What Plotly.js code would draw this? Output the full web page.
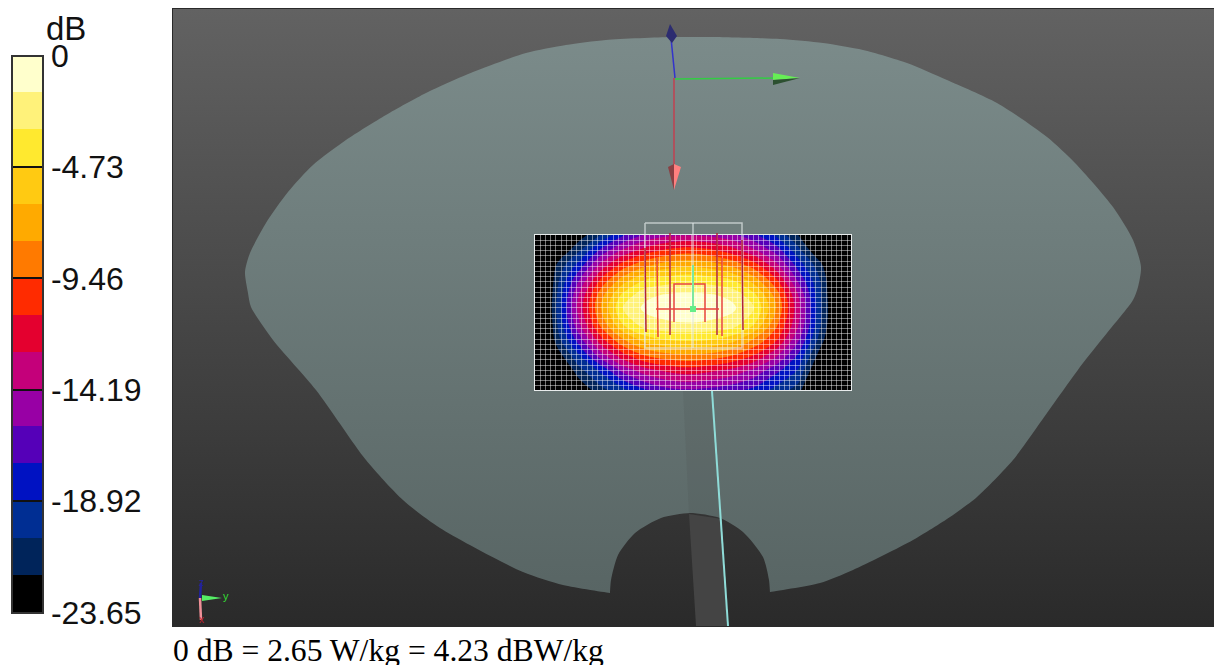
<!DOCTYPE html>
<html>
<head>
<meta charset="utf-8">
<script src="https://cdn.plot.ly/plotly-3.0.1.min.js"></script>
<style>html,body{margin:0;padding:0;background:#fff;overflow:hidden}#chart{width:1214px;height:665px}</style>
</head>
<body>
<div id="chart"></div>
<script>
// dB scale
var bandColors = ['#000000','#00245A','#002E93','#0012C2','#5500B8','#9800A5','#C4007A','#E4002F','#FF2B00','#FF7A00','#FFAA00','#FFCA12','#FFE92F','#FFF27A','#FFFFCC'];
var scaleTicks = [0,-4.73,-9.46,-14.19,-18.92,-23.65];
var scaleLabels = ['0','-4.73','-9.46','-14.19','-18.92','-23.65'];

// SAR map, dB
var mapX = [535,557,579,601,623,645,667,688,710,732,754,776,798,820,851];
var mapY = [235,250,265,280,295,308,325,340,355,370,390];
var mapDb = [
 [-30,-27,-23,-20.4,-17.5,-15.6,-14.6,-14.3,-14.6,-15.4,-17,-19.2,-22,-27,-30],
 [-30,-24,-20.8,-17,-14,-12,-10.8,-10.3,-10.8,-12,-14,-16.5,-20,-24,-30],
 [-29,-21.8,-18.3,-13.7,-10.3,-8.3,-7.1,-6.7,-7.1,-8.3,-10.3,-13.7,-18,-21.5,-29],
 [-28,-21,-15.8,-10.7,-7.1,-4.7,-3.95,-3.55,-3.95,-4.7,-7.1,-10.7,-16,-20.5,-28],
 [-28,-20.5,-14.1,-8.5,-4.3,-2,-1.4,-1.25,-1.4,-2,-4.3,-8.5,-14.1,-20.2,-28],
 [-28,-20.2,-13.6,-7.88,-3.15,-1.2,-0.5,0,-0.5,-1.2,-3.15,-7.88,-13.6,-20,-28],
 [-28,-20.6,-14.5,-9.1,-4.8,-2.4,-2,-1.85,-2,-2.4,-4.8,-9.1,-14,-20.3,-28],
 [-28,-21.3,-16.6,-11.6,-8.1,-5.7,-4.7,-4.5,-4.7,-5.7,-8.1,-10.8,-15.5,-21.2,-28],
 [-29,-23,-19,-14.8,-11.5,-9.3,-8.3,-8,-8.3,-9.3,-11,-13.8,-17.5,-22.8,-29],
 [-30,-25,-21,-18.5,-15.2,-13.2,-12.2,-11.7,-12.2,-13,-14.5,-16.8,-19,-24.5,-30],
 [-30,-27,-23.5,-21,-19.4,-17.5,-16.2,-15.9,-16.2,-16.8,-17.8,-19.5,-21.2,-27,-30]
];

// scene outlines
var panelX = [173,1214,1214,173,173];
var panelY = [9,9,626,626,9];
var phantomX = [680,713,780,823,863,907,947,997,1047,1075,1113,1133,1141,1138,1133,1107,1083,1047,1013,977,950,913,853,820,770,770,769,763,743,720,690,661,635,618,611,610,610,563,523,440,403,366,316,273,251,248,245,250,266,288,313,346,386,426,473,526,566,606,670,680];
var phantomY = [37,37,39,43,50,63,80,103,137,163,207,240,267,287,300,333,363,413,460,497,517,540,570,583,592,592,580,557,532,518,513,518,533,555,580,593,593,585,572,528,500,460,390,340,307,293,272,253,223,192,165,140,115,93,72,53,45,40,37,37];
var stemUpperX = [683,712,720,689,683];
var stemUpperY = [391,391,519,513,391];
var stemLowerX = [689,722,727,696,689];
var stemLowerY = [514,519,626,626,514];
var cableX = [712,728];
var cableY = [391,626];

// probe and axis glyphs
var probeBoxX = [645,742,742,645,645,null,693,693];
var probeBoxY = [223,223,348,348,223,null,223,348];
var probeDarkX = [645,646,null,670,670,null,717,717,null,742,743];
var probeDarkY = [248,332,null,233,335,null,233,335,null,240,330];
var probeRedX = [657,658,null,722,722,null,674,674,705,705,null,656,719];
var probeRedY = [258,337,null,258,336,null,322,284,284,322,null,309,309];
var probeFeedX = [693,693];
var probeFeedY = [265,309];
var axisBlueX = [671,675], axisBlueY = [38,78];
var axisRedX = [674,674], axisRedY = [78,166];
var axisGreenX = [675,775], axisGreenY = [79,78];
var coneBlueX = [670,677,672,666,670], coneBlueY = [24,36,43,36,24];
var coneRedDarkX = [668,674,674,668], coneRedDarkY = [167,164,190,167];
var coneRedX = [674,681,674,674], coneRedY = [164,167,190,164];
var coneGreenX = [773,800,773,773], coneGreenY = [73,78,80,73];
var coneGreenDarkX = [773,800,773,773], coneGreenDarkY = [80,78,85,80];
var triadBlueX = [200,201], triadBlueY = [598,583];
var triadRedX = [200,201], triadRedY = [598,620];
var triadGreenX = [202,222,202,202], triadGreenY = [595,598,601,595];

var colorscale = [];
bandColors.forEach(function(c,i){
  colorscale.push([i/bandColors.length,c]);
  colorscale.push([(i+1)/bandColors.length,c]);
});

function poly(x,y,color,axes){
  return {type:'scatter',mode:'lines',x:x,y:y,fill:'toself',fillcolor:color,line:{width:0},xaxis:axes[0],yaxis:axes[1],hoverinfo:'skip',showlegend:false};
}
function gradPoly(x,y,hi,lo,shape){
  return {type:'scatter',mode:'lines',x:x,y:y,fill:'toself',
    fillgradient:{type:'vertical',colorscale:[[0,lo],[1,hi]]},
    line:{width:0,shape:shape,smoothing:0.7},hoverinfo:'skip',showlegend:false};
}
function line(x,y,color,w,axes){
  return {type:'scatter',mode:'lines',x:x,y:y,line:{color:color,width:w},xaxis:axes[0],yaxis:axes[1],hoverinfo:'skip',showlegend:false};
}
var overAxes = ['x4','y4'], mainAxes = ['x','y'];

var traces = [
  gradPoly(panelX,panelY,'#626262','#2A2A2A','linear'),
  gradPoly(phantomX,phantomY,'#7B8B8A','#586564','spline'),
  poly(stemUpperX,stemUpperY,'rgba(60,60,60,0.10)',mainAxes),
  poly(stemLowerX,stemLowerY,'#444444',mainAxes),
  line(cableX,cableY,'#8FDCD8',2,mainAxes),
  {type:'contour',x:mapX,y:mapY,z:mapDb,zmin:-23.65,zmax:0,zauto:false,xaxis:'x2',yaxis:'y2',
   autocontour:false,colorscale:colorscale,
   contours:{start:-22.0733,end:-1.5,size:1.5767,coloring:'fill',showlines:false},
   line:{width:0,smoothing:1},
   hoverinfo:'skip',
   colorbar:{xref:'paper',yref:'paper',x:12/1214,xanchor:'left',y:1-55.5/665,yanchor:'top',
     thicknessmode:'pixels',thickness:31,lenmode:'pixels',len:557,xpad:0,ypad:0,
     outlinecolor:'#333333',outlinewidth:2,borderwidth:0,
     tickmode:'array',tickvals:scaleTicks,ticktext:scaleLabels,ticks:'inside',ticklen:31,tickwidth:2,tickcolor:'#111111',
     tickfont:{family:'Liberation Sans',size:32,color:'#111111'}}},
  {type:'scatter',mode:'none',x:[mapX[0]],y:[mapY[0]],xaxis:'x3',yaxis:'y3',hoverinfo:'skip',showlegend:false},
  line(probeBoxX,probeBoxY,'rgba(225,232,232,0.7)',1.5,overAxes),
  line(probeDarkX,probeDarkY,'#B02438',1.5,overAxes),
  line(probeRedX,probeRedY,'#E8443C',1.5,overAxes),
  line(probeFeedX,probeFeedY,'#7CE8A0',2,overAxes),
  {type:'scatter',mode:'markers',x:[693],y:[309],marker:{color:'#66EE88',size:6,symbol:'square'},xaxis:'x4',yaxis:'y4',hoverinfo:'skip',showlegend:false},
  line(axisBlueX,axisBlueY,'#3333CC',1.5,overAxes),
  line(axisRedX,axisRedY,'#C04050',1.5,overAxes),
  line(axisGreenX,axisGreenY,'#33CC44',1.5,overAxes),
  poly(coneBlueX,coneBlueY,'#2C2C70',overAxes),
  poly(coneRedDarkX,coneRedDarkY,'#8A4044',overAxes),
  poly(coneRedX,coneRedY,'#FF8080',overAxes),
  poly(coneGreenX,coneGreenY,'#66EE55',overAxes),
  poly(coneGreenDarkX,coneGreenDarkY,'#2C5030',overAxes),
  line(triadBlueX,triadBlueY,'#22229A',2.5,overAxes),
  line(triadRedX,triadRedY,'#F09098',2.5,overAxes),
  poly(triadGreenX,triadGreenY,'#55EE66',overAxes)
];

var axisOff = {showgrid:false,zeroline:false,showticklabels:false,ticks:'',showline:false,fixedrange:true};
var mapDomX = [535/1214,851/1214], mapDomY = [275/665,430/665];
var layout = {
  width:1214,height:665,margin:{l:0,r:0,t:0,b:0},
  paper_bgcolor:'#ffffff',plot_bgcolor:'rgba(0,0,0,0)',showlegend:false,
  xaxis:Object.assign({},axisOff,{domain:[173/1214,1],range:[173,1214],showline:true,linecolor:'#2A2A2A',linewidth:1,mirror:true}),
  yaxis:Object.assign({},axisOff,{domain:[39/665,656/665],range:[626,9],showline:true,linecolor:'#2A2A2A',linewidth:1,mirror:true}),
  xaxis2:Object.assign({},axisOff,{anchor:'y2',domain:mapDomX,range:[535,851]}),
  yaxis2:Object.assign({},axisOff,{anchor:'x2',domain:mapDomY,range:[390,235]}),
  xaxis3:Object.assign({},axisOff,{anchor:'y3',domain:mapDomX,range:[535,851],showgrid:true,gridcolor:'rgba(255,255,255,0.45)',gridwidth:1,tick0:535,dtick:5.2,showline:true,linecolor:'#E8ECEC',linewidth:1,mirror:true}),
  yaxis3:Object.assign({},axisOff,{anchor:'x3',domain:mapDomY,range:[390,235],showgrid:true,gridcolor:'rgba(255,255,255,0.45)',gridwidth:1,tick0:235,dtick:5.2,showline:true,linecolor:'#E8ECEC',linewidth:1,mirror:true}),
  xaxis4:Object.assign({},axisOff,{anchor:'y4',domain:[173/1214,1],range:[173,1214]}),
  yaxis4:Object.assign({},axisOff,{anchor:'x4',domain:[39/665,656/665],range:[626,9]}),
  annotations:[
    {xref:'paper',yref:'paper',x:66/1214,y:1-28/665,text:'dB',showarrow:false,xanchor:'center',yanchor:'middle',font:{family:'Liberation Sans',size:33,color:'#111111'}},
    {xref:'paper',yref:'paper',x:173/1214,y:1-650/665,text:'0 dB = 2.65 W/kg = 4.23 dBW/kg',showarrow:false,xanchor:'left',yanchor:'middle',xshift:-2,font:{family:'Liberation Serif',size:31.6,color:'#000000'}},
    {xref:'x4',yref:'y4',x:226,y:596,text:'y',showarrow:false,font:{family:'Liberation Sans',size:11,color:'#33DD33'}},
    {xref:'x4',yref:'y4',x:201,y:582,text:'z',showarrow:false,font:{family:'Liberation Sans',size:10,color:'#22229A'}},
    {xref:'x4',yref:'y4',x:201,y:619,text:'x',showarrow:false,font:{family:'Liberation Sans',size:10,color:'#C02030'}}
  ]
};
Plotly.newPlot('chart',traces,layout,{staticPlot:true,displayModeBar:false});
</script>
</body>
</html>
